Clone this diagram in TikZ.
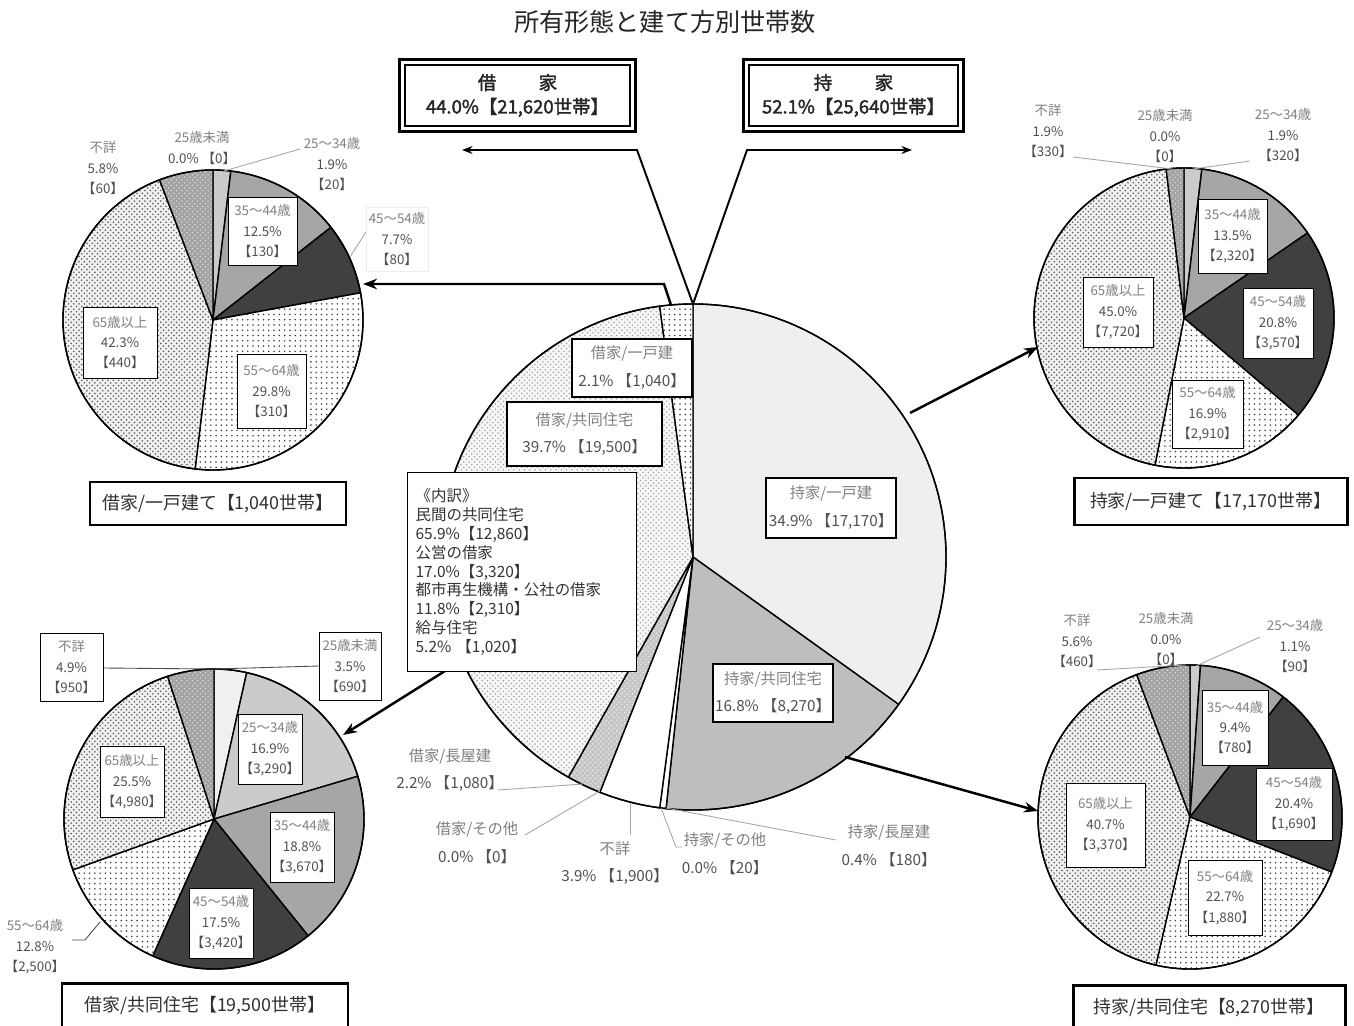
\documentclass[tikz,border=0pt]{standalone}
\usepackage{fontspec}
\setmainfont{Noto Sans CJK JP}[AutoFakeBold=2]
\usetikzlibrary{patterns,arrows.meta,calc}
\definecolor{lg}{HTML}{808080}
\definecolor{dg}{HTML}{505050}
\definecolor{capc}{HTML}{303030}
\definecolor{gu}{HTML}{F0F0F0}
\definecolor{ga}{HTML}{CBCBCB}
\definecolor{gb}{HTML}{A6A6A6}
\definecolor{gc}{HTML}{404040}
\definecolor{go}{HTML}{EFEFEF}
\definecolor{gk}{HTML}{BEBEBE}
\newcommand\pslice[5]{\path[#5] (#1) -- ++({#3-90}:#2) arc[start angle={#3-90}, end angle={#4-90}, radius=#2] -- cycle;}
\newcommand\lgt[1]{\textcolor{lg}{#1}}
\tikzset{
  sl/.style={draw=black, line width=0.8pt, line join=round},
  fu/.style={sl, fill=gu},
  fa/.style={sl, fill=ga},
  fb/.style={sl, fill=gb},
  fc/.style={sl, fill=gc},
  fw/.style={sl, fill=white},
  fdots/.style={sl, preaction={fill=white}, pattern=dots, pattern color=black!75},
  fcross/.style={sl, preaction={fill=gray!12}, pattern=crosshatch dots, pattern color=black!65},
  flight/.style={sl, preaction={fill=gray!6}, pattern=crosshatch dots, pattern color=black!35},
  fna/.style={sl, preaction={fill=gray!72}, pattern=crosshatch dots, pattern color=gray!30},
  fnal/.style={sl, preaction={fill=gray!45}, pattern=crosshatch dots, pattern color=gray!15},
  bx/.style 2 args={minimum width={#1*0.02cm}, minimum height={#2*0.02cm}, inner sep=0pt},
  lbl/.style={font=\fontsize{7.6}{11.6}\selectfont, text=dg, align=center, inner sep=1pt},
  lblbox/.style={lbl, draw=black, line width=0.5pt, fill=white},
  clbl/.style={font=\fontsize{8.7}{15.9}\selectfont, text=dg, align=center, inner sep=1pt},
  clblbox/.style={clbl, draw=black, line width=0.6pt, fill=white},
  capbox/.style={draw=black, line width=1.7pt, fill=white, font=\fontsize{10.2}{12}\selectfont, text=capc},
  lead/.style={draw=gray!70, line width=0.5pt},
  arr/.style={draw=black, line width=1.4pt, -{Stealth[length=8pt,width=6pt]}},
  varr/.style={draw=black, line width=1.1pt, -{Stealth[length=6pt,width=4.5pt]}},
  topbox/.style={draw=black, line width=0.9pt, fill=white, font=\bfseries\fontsize{10.5}{13.6}\selectfont, align=center, text=black!85},
}
\begin{document}
\begin{tikzpicture}[x=0.02cm, y=-0.02cm]
\useasboundingbox (0,0) rectangle (1354,1026);
\clip (0,0) rectangle (1354,1026);
\fill[white] (0,0) rectangle (1354,1026);

\node[font=\fontsize{14.3}{16}\selectfont, text=black!85] (title) at (665,22) {所有形態と建て方別世帯数};

% ---------- centre pie ----------
\coordinate (P0) at (693,557);
\pslice{P0}{253}{0}{125.64}{sl, fill=go}
\pslice{P0}{253}{125.64}{186.12}{sl, fill=gk}
\pslice{P0}{253}{186.12}{187.56}{fw}
\pslice{P0}{253}{187.56}{201.6}{fw}
\pslice{P0}{253}{201.6}{209.52}{fnal}
\pslice{P0}{253}{209.52}{352.44}{flight}
\pslice{P0}{253}{352.44}{360}{fdots}
\draw[sl] (P0) circle[radius=253];

% ---------- top-left pie ----------
\coordinate (P1) at (213,320);
\pslice{P1}{150}{0}{6.84}{fa}
\pslice{P1}{150}{6.84}{51.84}{fb}
\pslice{P1}{150}{51.84}{79.56}{fc}
\pslice{P1}{150}{79.56}{186.84}{fdots}
\pslice{P1}{150}{186.84}{339.12}{fcross}
\pslice{P1}{150}{339.12}{360}{fna}
\draw[sl] (P1) circle[radius=150];

% ---------- top-right pie ----------
\coordinate (P2) at (1184,318);
\pslice{P2}{150}{0}{6.84}{fa}
\pslice{P2}{150}{6.84}{55.44}{fb}
\pslice{P2}{150}{55.44}{130.32}{fc}
\pslice{P2}{150}{130.32}{191.16}{fdots}
\pslice{P2}{150}{191.16}{353.16}{fcross}
\pslice{P2}{150}{353.16}{360}{fna}
\draw[sl] (P2) circle[radius=150];

% ---------- bottom-right pie ----------
\coordinate (P3) at (1190,817);
\pslice{P3}{152}{0}{3.96}{fa}
\pslice{P3}{152}{3.96}{37.8}{fb}
\pslice{P3}{152}{37.8}{111.24}{fc}
\pslice{P3}{152}{111.24}{192.96}{fdots}
\pslice{P3}{152}{192.96}{339.48}{fcross}
\pslice{P3}{152}{339.48}{360}{fna}
\draw[sl] (P3) circle[radius=152];

% ---------- bottom-left pie ----------
\coordinate (P4) at (214,819);
\pslice{P4}{150}{0}{12.6}{fu}
\pslice{P4}{150}{12.6}{73.44}{fa}
\pslice{P4}{150}{73.44}{141.12}{fb}
\pslice{P4}{150}{141.12}{204.12}{fc}
\pslice{P4}{150}{204.12}{250.2}{fdots}
\pslice{P4}{150}{250.2}{342}{fcross}
\pslice{P4}{150}{342}{360}{fna}
\draw[sl] (P4) circle[radius=150];

% ---------- arrows ----------
\coordinate (vtop) at (693,304);
\coordinate (vl) at (637,150);
\coordinate (vle) at (462,150);
\coordinate (vr) at (747,150);
\coordinate (vre) at (912,150);
\draw[varr] (vtop) -- (vl) -- (vle);
\draw[varr] (vtop) -- (vr) -- (vre);

\coordinate (a1s) at (671,305);
\coordinate (a1c) at (664,284);
\coordinate (a1e) at (363,284);
\draw[arr] (a1s) -- (a1c) -- (a1e);
\coordinate (a2s) at (910,413);
\coordinate (a2e) at (1038,347);
\draw[arr] (a2s) -- (a2e);
\coordinate (a3s) at (845,757);
\coordinate (a3e) at (1038,811);
\draw[arr] (a3s) -- (a3e);
\coordinate (a4s) at (480,649);
\coordinate (a4e) at (343,735);
\draw[arr] (a4s) -- (a4e);

% ---------- top boxes ----------
\node[topbox, bx={225}{61}] (rent) at (517.5,95.5) {借\hspace{2.3em}家\\44.0\%【21,620世帯】};
\draw[line width=1.8pt] ([shift={(-5,-5)}]rent.north west) rectangle ([shift={(5,5)}]rent.south east);
\node[topbox, bx={209}{61}] (own) at (853.5,95.5) {持\hspace{2.3em}家\\52.1\%【25,640世帯】};
\draw[line width=1.8pt] ([shift={(-5,-5)}]own.north west) rectangle ([shift={(5,5)}]own.south east);

% ---------- centre labels ----------
\node[clblbox, bx={130}{60}] (oh1) at (831,508) {\lgt{持家/一戸建}\\34.9\% 【17,170】};
\node[clblbox, bx={120}{58}] (oh2) at (773,693) {\lgt{持家/共同住宅}\\16.8\% 【8,270】};
\node[clblbox, bx={120}{58}] (rh1) at (632,368) {\lgt{借家/一戸建}\\2.1\% 【1,040】};
\node[clblbox, bx={155}{64}] (rh2) at (584.5,434) {\lgt{借家/共同住宅}\\39.7\% 【19,500】};
\node[draw=black, line width=0.7pt, fill=white, text width=4.26cm, inner xsep=0.16cm, minimum height=3.98cm, align=left, font=\fontsize{8.8}{10.7}\selectfont, text=black!80, anchor=north west] (uw) at (407,472) {《内訳》\\民間の共同住宅\\65.9\%【12,860】\\公営の借家\\17.0\%【3,320】\\都市再生機構・公社の借家\\11.8\%【2,310】\\給与住宅\\5.2\% 【1,020】};

\node[clbl] (rn) at (450,770) {\lgt{借家/長屋建}\\2.2\% 【1,080】};
\node[clbl] (ro) at (477,843) {\lgt{借家/その他}\\0.0\% 【0】};
\node[clbl] (na) at (615,863) {\lgt{不詳}\\3.9\% 【1,900】};
\node[clbl] (oo) at (725,853.5) {\lgt{持家/その他}\\0.0\% 【20】};
\node[clbl] (on) at (889,846) {\lgt{持家/長屋建}\\0.4\% 【180】};

\coordinate (rnL) at (498,790); \coordinate (rnP) at (583,784);
\draw[lead] (rnL) -- (rnP);
\coordinate (roL) at (525,835); \coordinate (roP) at (600,791);
\draw[lead] (roL) -- (roP);
\coordinate (naL) at (630,835); \coordinate (naP) at (630,803);
\draw[lead] (naL) -- (naP);
\coordinate (ooP) at (661,808); \coordinate (ooM) at (676,847); \coordinate (ooL) at (682,847);
\draw[lead] (ooP) -- (ooM) -- (ooL);
\coordinate (onP) at (666,808); \coordinate (onL) at (836,840);
\draw[lead] (onP) -- (onL);

% ---------- top-left labels ----------
\coordinate (tl25L) at (300,149); \coordinate (tl25P) at (224,171);
\draw[lead] (tl25L) -- (tl25P);
\coordinate (tl45L) at (366,232); \coordinate (tl45P) at (350,257);
\draw[lead] (tl45L) -- (tl45P);
\node[lbl] (tlna) at (103,168) {\lgt{不詳}\\5.8\%\\【60】};
\node[lbl] (tlu) at (202,148) {\lgt{25歳未満}\\0.0\% 【0】};
\node[lbl] (tl25) at (332,164) {\lgt{25～34歳}\\1.9\%\\【20】};
\node[lbl, fill=white, draw=gray!15, bx={62}{64}] (tl45) at (397,239) {\lgt{45～54歳}\\7.7\%\\【80】};
\node[lblbox, bx={69}{68}] (tl35) at (262.5,231) {\lgt{35～44歳}\\12.5\%\\【130】};
\node[lblbox, bx={69}{74}] (tl55) at (271.5,391) {\lgt{55～64歳}\\29.8\%\\【310】};
\node[lblbox, bx={74}{71}] (tl65) at (120,342.5) {\lgt{65歳以上}\\42.3\%\\【440】};
\node[capbox, bx={256}{43}] (tlcap) at (218,503.5) {借家/一戸建て【1,040世帯】};

% ---------- top-right labels ----------
\coordinate (trnaL) at (1073,157); \coordinate (trnaP) at (1172,169);
\draw[lead] (trnaL) -- (trnaP);
\coordinate (tr25L) at (1250,161); \coordinate (tr25P) at (1193,169);
\draw[lead] (tr25L) -- (tr25P);
\node[lbl] (trna) at (1048,131) {\lgt{不詳}\\1.9\%\\【330】};
\node[lbl] (tru) at (1165,136) {\lgt{25歳未満}\\0.0\%\\【0】};
\node[lbl] (tr25) at (1283,135) {\lgt{25～34歳}\\1.9\%\\【320】};
\node[lblbox, bx={69}{74}] (tr35) at (1232.5,236) {\lgt{35～44歳}\\13.5\%\\【2,320】};
\node[lblbox, bx={70}{70}] (tr45) at (1278,323) {\lgt{45～54歳}\\20.8\%\\【3,570】};
\node[lblbox, bx={71}{68}] (tr55) at (1207.5,414) {\lgt{55～64歳}\\16.9\%\\【2,910】};
\node[lblbox, bx={70}{70}] (tr65) at (1118,312) {\lgt{65歳以上}\\45.0\%\\【7,720】};
\node[capbox, bx={273}{47}] (trcap) at (1210.5,501.5) {持家/一戸建て【17,170世帯】};

% ---------- bottom-right labels ----------
\coordinate (brnaL) at (1097,670); \coordinate (brnaP) at (1186,665);
\draw[lead] (brnaL) -- (brnaP);
\coordinate (br25L) at (1260,637); \coordinate (br25P) at (1196,666);
\draw[lead] (br25L) -- (br25P);
\node[lbl] (brna) at (1077,641) {\lgt{不詳}\\5.6\%\\【460】};
\node[lbl] (bru) at (1166,639) {\lgt{25歳未満}\\0.0\%\\【0】};
\node[lbl] (br25) at (1295,646) {\lgt{25～34歳}\\1.1\%\\【90】};
\node[lblbox, bx={66}{75}] (br35) at (1235,727.5) {\lgt{35～44歳}\\9.4\%\\【780】};
\node[lblbox, bx={76}{72}] (br45) at (1294,804) {\lgt{45～54歳}\\20.4\%\\【1,690】};
\node[lblbox, bx={74}{75}] (br55) at (1225,897.5) {\lgt{55～64歳}\\22.7\%\\【1,880】};
\node[lblbox, bx={79}{84}] (br65) at (1105.5,825) {\lgt{65歳以上}\\40.7\%\\【3,370】};
\node[capbox, bx={272}{46}] (brcap) at (1209,1008) {持家/共同住宅【8,270世帯】};

% ---------- bottom-left labels ----------
\coordinate (blnaP) at (214,669); \coordinate (blnaL) at (103,668); \coordinate (bluL) at (319,666);
\draw[draw=black!70, line width=0.5pt] (blnaL) -- (blnaP) -- (bluL);
\coordinate (bl55L) at (72,940); \coordinate (bl55M) at (85,940); \coordinate (bl55P) at (100,922);
\draw[draw=black!70, line width=0.5pt] (bl55L) -- (bl55M) -- (bl55P);
\node[lblbox, bx={63}{68}] (blna) at (71.5,667) {\lgt{不詳}\\4.9\%\\【950】};
\node[lblbox, bx={62}{68}] (blu) at (350,666) {\lgt{25歳未満}\\3.5\%\\【690】};
\node[lblbox, bx={64}{70}] (bl25) at (270,749) {\lgt{25～34歳}\\16.9\%\\【3,290】};
\node[lblbox, bx={64}{70}] (bl35) at (302,847) {\lgt{35～44歳}\\18.8\%\\【3,670】};
\node[lblbox, bx={64}{70}] (bl45) at (221,923) {\lgt{45～54歳}\\17.5\%\\【3,420】};
\node[lblbox, bx={64}{71}] (bl65) at (132,782) {\lgt{65歳以上}\\25.5\%\\【4,980】};
\node[lbl] (bl55) at (35,947) {\lgt{55～64歳}\\12.8\%\\【2,500】};
\node[capbox, bx={286}{46}] (blcap) at (205,1006) {借家/共同住宅【19,500世帯】};
\end{tikzpicture}
\end{document}
